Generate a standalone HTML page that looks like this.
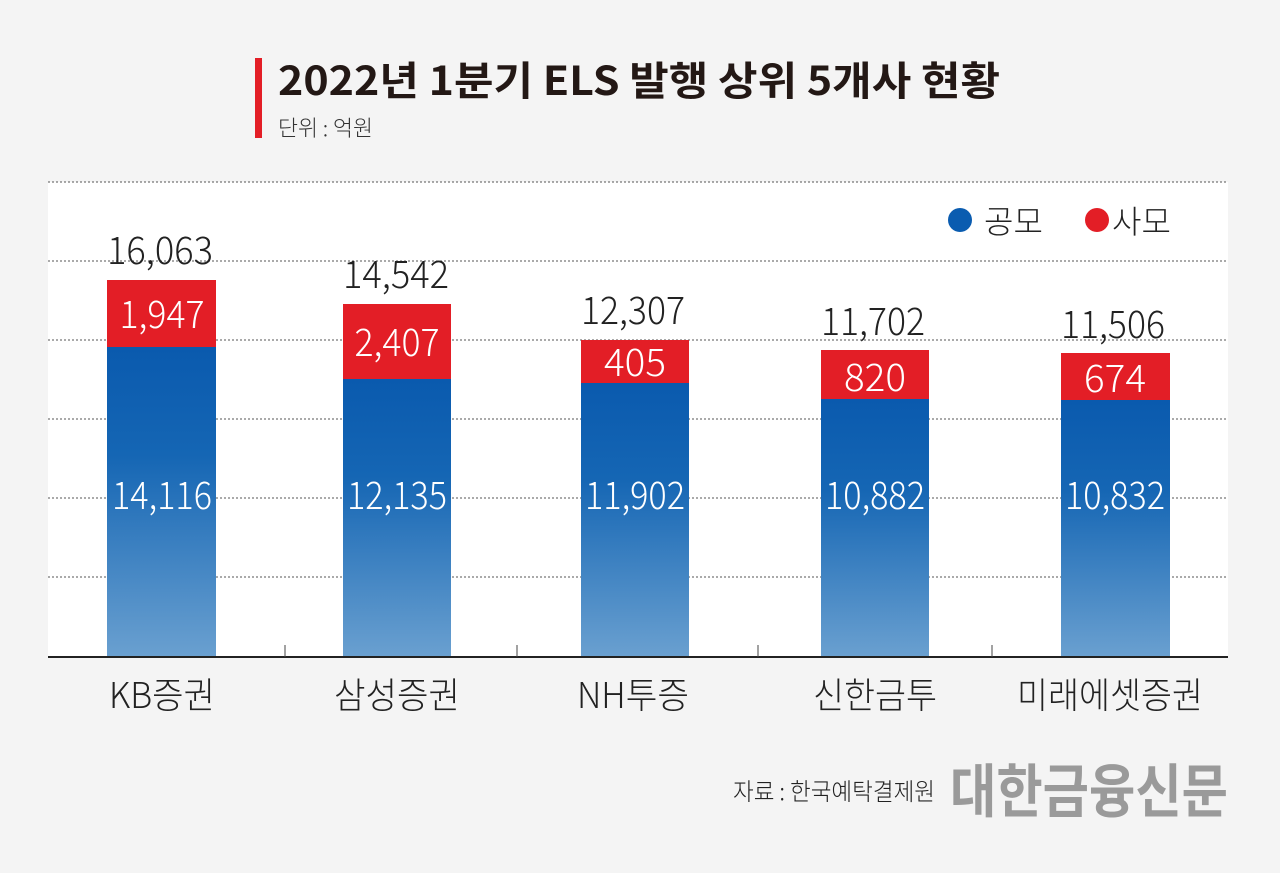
<!DOCTYPE html>
<html><head><meta charset="utf-8"><style>
html,body{margin:0;padding:0;background:#f4f4f4;}
svg{display:block}
text{font-family:"Noto Sans CJK KR","Liberation Sans",sans-serif;font-weight:300;}
</style></head><body>
<svg width="1280" height="873" xmlns="http://www.w3.org/2000/svg">
<defs>
<linearGradient id="bl" x1="0" y1="0" x2="0" y2="1">
<stop offset="0" stop-color="#0a5aae"/><stop offset="0.35" stop-color="#1566b4"/><stop offset="1" stop-color="#6aa0d0"/>
</linearGradient>
</defs>
<rect width="1280" height="873" fill="#f4f4f4"/>
<rect x="48" y="182" width="1180" height="475" fill="#fff"/>
<rect x="255" y="58" width="7" height="80" fill="#e31e26"/>
<text x="278" y="95" font-size="40" style="font-weight:bold" fill="#231815" textLength="722" lengthAdjust="spacingAndGlyphs">2022년 1분기 ELS 발행 상위 5개사 현황</text>
<text x="278" y="136" font-size="22" fill="#333" textLength="95" lengthAdjust="spacingAndGlyphs">단위 : 억원</text>
<g stroke="#555" stroke-width="1" stroke-dasharray="2,2">
<line x1="48" y1="182" x2="1228" y2="182"/><line x1="48" y1="261" x2="1228" y2="261"/>
<line x1="48" y1="340" x2="1228" y2="340"/><line x1="48" y1="419" x2="1228" y2="419"/>
<line x1="48" y1="498" x2="1228" y2="498"/><line x1="48" y1="577" x2="1228" y2="577"/>
</g>
<circle cx="960" cy="220" r="12" fill="#0a5cb0"/>
<text x="984" y="233" font-size="32" fill="#222">공모</text>
<circle cx="1097" cy="220" r="12" fill="#e31e26"/>
<text x="1112" y="233" font-size="32" fill="#222">사모</text>
<g>
<rect x="107" y="347" width="109" height="310" fill="url(#bl)"/><rect x="107" y="280" width="109" height="67" fill="#e31e26"/>
<rect x="343" y="379" width="108" height="278" fill="url(#bl)"/><rect x="343" y="304" width="108" height="75" fill="#e31e26"/>
<rect x="581" y="383" width="108" height="274" fill="url(#bl)"/><rect x="581" y="340" width="108" height="43" fill="#e31e26"/>
<rect x="821" y="399" width="108" height="258" fill="url(#bl)"/><rect x="821" y="350" width="108" height="49" fill="#e31e26"/>
<rect x="1061" y="400" width="109" height="257" fill="url(#bl)"/><rect x="1061" y="353" width="109" height="47" fill="#e31e26"/>
</g>
<line x1="48" y1="657" x2="1228" y2="657" stroke="#222" stroke-width="2"/>
<g stroke="#444" stroke-width="1"><line x1="285" y1="645" x2="285" y2="657"/><line x1="517" y1="645" x2="517" y2="657"/><line x1="758" y1="645" x2="758" y2="657"/><line x1="992" y1="645" x2="992" y2="657"/></g>
<g font-size="38" fill="#222" text-anchor="middle">
<text x="160" y="264" textLength="106" lengthAdjust="spacingAndGlyphs">16,063</text>
<text x="396" y="288" textLength="106" lengthAdjust="spacingAndGlyphs">14,542</text>
<text x="633" y="324" textLength="104" lengthAdjust="spacingAndGlyphs">12,307</text>
<text x="873" y="335" textLength="104" lengthAdjust="spacingAndGlyphs">11,702</text>
<text x="1113" y="338" textLength="104" lengthAdjust="spacingAndGlyphs">11,506</text>
</g>
<g font-size="38" fill="#fff" text-anchor="middle">
<text x="162" y="328" textLength="85" lengthAdjust="spacingAndGlyphs">1,947</text>
<text x="397" y="356" textLength="85" lengthAdjust="spacingAndGlyphs">2,407</text>
<text x="635" y="376" textLength="62" lengthAdjust="spacingAndGlyphs">405</text>
<text x="875" y="391" textLength="62" lengthAdjust="spacingAndGlyphs">820</text>
<text x="1115" y="392" textLength="62" lengthAdjust="spacingAndGlyphs">674</text>
<text x="162" y="509" textLength="100" lengthAdjust="spacingAndGlyphs">14,116</text>
<text x="397" y="509" textLength="100" lengthAdjust="spacingAndGlyphs">12,135</text>
<text x="635" y="509" textLength="100" lengthAdjust="spacingAndGlyphs">11,902</text>
<text x="875" y="509" textLength="100" lengthAdjust="spacingAndGlyphs">10,882</text>
<text x="1115" y="509" textLength="100" lengthAdjust="spacingAndGlyphs">10,832</text>
</g>
<g font-size="36" fill="#222" text-anchor="middle">
<text x="162" y="708" textLength="106" lengthAdjust="spacingAndGlyphs">KB증권</text>
<text x="397" y="708" textLength="126" lengthAdjust="spacingAndGlyphs">삼성증권</text>
<text x="633" y="708" textLength="112" lengthAdjust="spacingAndGlyphs">NH투증</text>
<text x="875" y="708" textLength="124" lengthAdjust="spacingAndGlyphs">신한금투</text>
<text x="1110" y="708" textLength="186" lengthAdjust="spacingAndGlyphs">미래에셋증권</text>
</g>
<text x="733" y="800" font-size="24" fill="#222" textLength="202" lengthAdjust="spacingAndGlyphs">자료 : 한국예탁결제원</text>
<text x="950" y="812" font-size="58" style="font-weight:bold" fill="#9a9a9a" textLength="278" lengthAdjust="spacingAndGlyphs">대한금융신문</text>
</svg>
</body></html>
